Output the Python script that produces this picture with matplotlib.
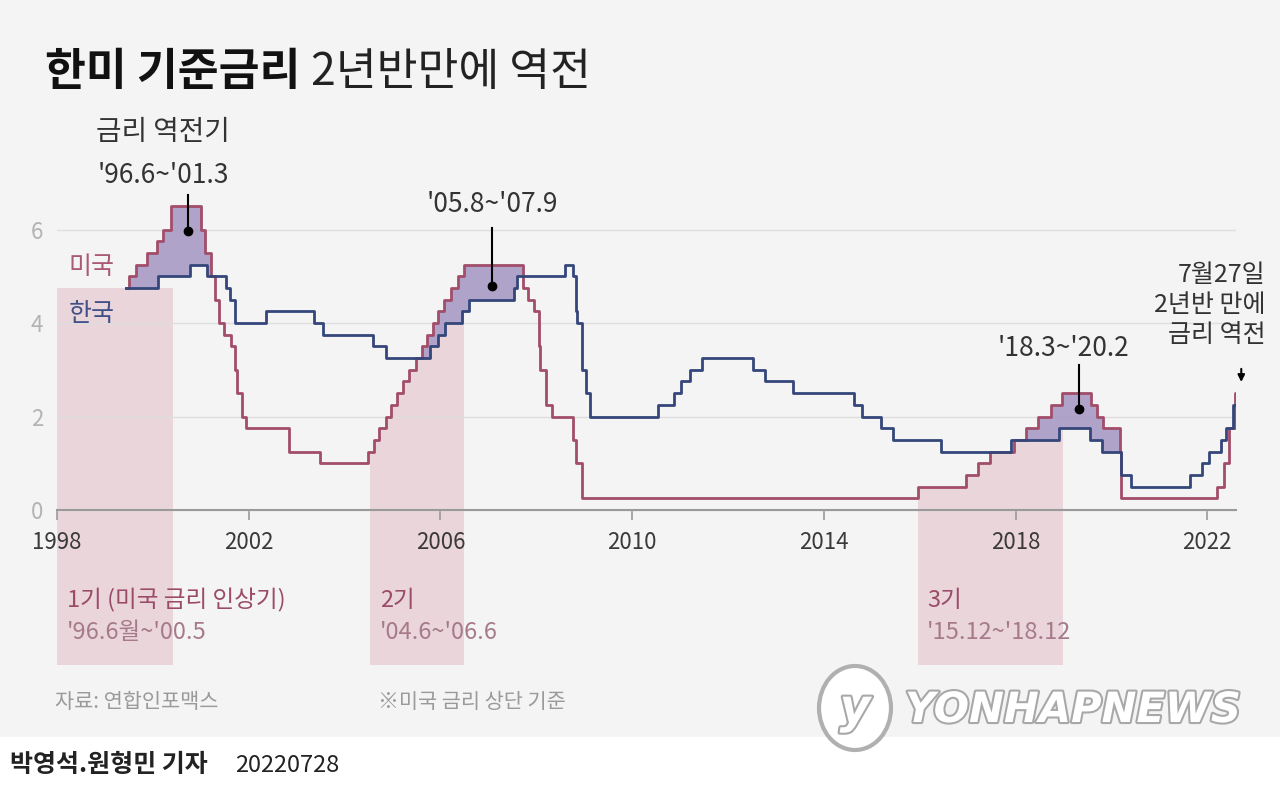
import matplotlib.pyplot as plt
import matplotlib.patheffects as pe
from matplotlib.patches import Rectangle, Ellipse
import numpy as np

plt.rcParams['font.family'] = ['Noto Sans CJK KR', 'DejaVu Sans']

# 한국 기준금리 (step, decimal years)
kr_dates = [1999.45, 2000.1, 2000.78, 2001.12, 2001.52, 2001.62, 2001.72, 2002.36, 2003.36,
            2003.55, 2004.6, 2004.86, 2005.78, 2005.94, 2006.1, 2006.45, 2006.6, 2007.53,
            2007.6, 2008.6, 2008.77, 2008.82, 2008.85, 2008.95, 2009.03, 2009.12, 2010.53,
            2010.87, 2011.03, 2011.2, 2011.45, 2012.53, 2012.78, 2013.35, 2014.62, 2014.79,
            2015.2, 2015.45, 2016.45, 2017.91, 2018.91, 2019.55, 2019.81, 2020.21, 2020.41,
            2021.65, 2021.9, 2022.04, 2022.28, 2022.4, 2022.53]
kr_rates = [4.75, 5.0, 5.25, 5.0, 4.75, 4.5, 4.0, 4.25, 4.0,
            3.75, 3.5, 3.25, 3.5, 3.75, 4.0, 4.25, 4.5, 4.75,
            5.0, 5.25, 5.0, 4.25, 4.0, 3.0, 2.5, 2.0, 2.25,
            2.5, 2.75, 3.0, 3.25, 3.0, 2.75, 2.5, 2.25, 2.0,
            1.75, 1.5, 1.25, 1.5, 1.75, 1.5, 1.25, 0.75, 0.5,
            0.75, 1.0, 1.25, 1.5, 1.75, 2.25]

# 미국 기준금리 상단
us_dates = [1999.45, 1999.5, 1999.64, 1999.88, 2000.09, 2000.22, 2000.38, 2001.01, 2001.08,
            2001.22, 2001.3, 2001.38, 2001.49, 2001.64, 2001.71, 2001.76, 2001.85, 2001.95,
            2002.85, 2003.48, 2004.49, 2004.61, 2004.72, 2004.86, 2004.96, 2005.09, 2005.22,
            2005.34, 2005.49, 2005.61, 2005.72, 2005.84, 2005.95, 2006.08, 2006.23, 2006.36,
            2006.49, 2007.72, 2007.83, 2007.95, 2008.06, 2008.08, 2008.21, 2008.33, 2008.77,
            2008.82, 2008.96, 2015.96, 2016.96, 2017.21, 2017.46, 2017.96, 2018.22, 2018.46,
            2018.74, 2018.97, 2019.58, 2019.71, 2019.83, 2020.17, 2020.2, 2022.21, 2022.34,
            2022.46, 2022.57]
us_rates = [4.75, 5.0, 5.25, 5.5, 5.75, 6.0, 6.5, 6.0, 5.5,
            5.0, 4.5, 4.0, 3.75, 3.5, 3.0, 2.5, 2.0, 1.75,
            1.25, 1.0, 1.25, 1.5, 1.75, 2.0, 2.25, 2.5, 2.75,
            3.0, 3.25, 3.5, 3.75, 4.0, 4.25, 4.5, 4.75, 5.0,
            5.25, 4.75, 4.5, 4.25, 3.5, 3.0, 2.25, 2.0, 1.5,
            1.0, 0.25, 0.5, 0.75, 1.0, 1.25, 1.5, 1.75, 2.0,
            2.25, 2.5, 2.25, 2.0, 1.75, 1.25, 0.25, 0.5, 1.0,
            1.75, 2.5]
end_date = 2022.6

# 미국 금리 인상기
hike_starts = [1998.0, 2004.54, 2015.96]
hike_ends = [2000.42, 2006.49, 2018.98]
hike_titles = ['1기 (미국 금리 인상기)', '2기', '3기']
hike_periods = ["'96.6월~'00.5", "'04.6~'06.6", "'15.12~'18.12"]

# 금리 역전기 라벨
inv_labels = ["'05.8~'07.9", "'18.3~'20.2"]
inv_x = [2007.08, 2019.33]

BG = '#f4f4f4'
US_C = '#a24d6a'
KR_C = '#34467a'
INV_C = '#a495c3'
HIKE_C = '#ead5db'

fig = plt.figure(figsize=(12.8, 7.85), dpi=100, facecolor=BG)
fig.add_artist(Rectangle((0, 0), 1, 48 / 785, transform=fig.transFigure,
                         facecolor='white', edgecolor='none', zorder=0))

ax = fig.add_axes([57 / 1280, 1 - 665 / 785, (1236 - 57) / 1280, 475 / 785])
ax.set_facecolor('none')
ymin = -3.32
ax.set_xlim(1998, end_date)
ax.set_ylim(ymin, 6.85)

t = np.unique(np.concatenate([kr_dates, us_dates, [end_date]]))
kr_t = np.array(kr_rates)[np.searchsorted(kr_dates, t, side='right') - 1]
us_t = np.array(us_rates)[np.searchsorted(us_dates, t, side='right') - 1]
low_t = np.minimum(kr_t, us_t)

# 인상기 음영
for i, (s, e) in enumerate(zip(hike_starts, hike_ends)):
    if s < t[0]:
        ax.fill_between([s, e], ymin, 4.75, color=HIKE_C, lw=0, zorder=0.2)
    else:
        m = (t > s) & (t < e)
        tp = np.concatenate([[s], t[m], [e]])
        vp = low_t[np.searchsorted(t, tp, side='right') - 1]
        ax.fill_between(tp, ymin, vp, step='post', color=HIKE_C, lw=0, zorder=0.2)
    ax.text(s + 0.2, -1.93, hike_titles[i], color='#9a4b68', fontsize=17,
            va='center', ha='left', zorder=5)
    ax.text(s + 0.2, -2.63, hike_periods[i], color='#a67a8b', fontsize=17,
            va='center', ha='left', zorder=5)

# 역전 구간
w = us_t > kr_t
w2 = w | np.concatenate([[False], w[:-1]])
ax.fill_between(t, kr_t, us_t, where=w2, step='post', color=INV_C, lw=0,
                alpha=0.85, zorder=2)

ax.step(t, us_t, where='post', color=US_C, lw=2, zorder=3)
ax.step(t, kr_t, where='post', color=KR_C, lw=2, zorder=4)

# axes styling
for s in ['top', 'right', 'left']:
    ax.spines[s].set_visible(False)
ax.spines['bottom'].set_position(('data', 0))
ax.spines['bottom'].set_color('#9a9a9a')
ax.spines['bottom'].set_linewidth(1.5)
ax.set_yticks([0, 2, 4, 6])
ax.set_yticklabels(['0', '2', '4', '6'])
ax.tick_params(axis='y', length=0, pad=10, labelsize=16, labelcolor='#b3b3b3')
ax.set_xticks(range(1998, 2023, 4))
ax.tick_params(axis='x', direction='out', length=7, width=1.2, color='#9a9a9a',
               pad=8, labelsize=16, labelcolor='#3a3a3a')
ax.grid(axis='y', color='#dedede', lw=1)
ax.set_axisbelow(True)

# series labels
ax.text(1998.25, 5.2, '미국', color='#aa5a76', fontsize=18, va='center', zorder=5)
ax.text(1998.25, 4.2, '한국', color='#3f5187', fontsize=18, va='center', zorder=5)

# annotations
ax.text(2000.21, 8.09, '금리 역전기', ha='center', va='center', fontsize=20, color='#333')
ax.text(2000.21, 7.17, "'96.6~'01.3", ha='center', va='center', fontsize=19, color='#333')
ax.plot([2000.73, 2000.73], [6.74, 5.97], color='black', lw=1.5, clip_on=False, zorder=6)
ax.plot(2000.73, 5.97, 'o', color='black', ms=6, zorder=6)

ax.text(inv_x[0], 6.55, inv_labels[0], ha='center', va='center', fontsize=19, color='#333')
ax.plot([inv_x[0], inv_x[0]], [6.04, 4.8], color='black', lw=1.5, zorder=6)
ax.plot(inv_x[0], 4.8, 'o', color='black', ms=6, zorder=6)

ax.text(2019.0, 3.46, inv_labels[1], ha='center', va='center', fontsize=19, color='#333')
ax.plot([inv_x[1], inv_x[1]], [3.1, 2.16], color='black', lw=1.5, zorder=6)
ax.plot(inv_x[1], 2.16, 'o', color='black', ms=6, zorder=6)

ax.text(2023.22, 4.39, '7월27일\n2년반 만에\n금리 역전', ha='right', va='center',
        fontsize=18, color='#333', linespacing=1.2)
ax.annotate('', xy=(2022.71, 2.68), xytext=(2022.71, 3.08),
            arrowprops=dict(arrowstyle='-|>', color='black', lw=1.5,
                            mutation_scale=10), annotation_clip=False)

# title
t1 = fig.text(45 / 1280, 1 - 72 / 785, '한미 기준금리', fontsize=32,
              fontweight='bold', color='#111', va='center', ha='left')
ax.annotate('2년반만에 역전', xy=(1, 0.5), xycoords=t1, xytext=(8, 0),
            textcoords='offset points', fontsize=32, color='#222',
            va='center', ha='left', annotation_clip=False)

# notes
fig.text(55 / 1280, 1 - 702 / 785, '자료: 연합인포맥스', fontsize=15, color='#9a9a9a',
         va='center')
fig.text(378 / 1280, 1 - 702 / 785, '※미국 금리 상단 기준', fontsize=15, color='#9a9a9a',
         va='center')
fig.text(10 / 1280, 1 - 765 / 785, '박영석.원형민 기자', fontsize=18, color='#222',
         fontweight='bold', va='center')
fig.text(235 / 1280, 1 - 765 / 785, '20220728', fontsize=17, color='#222', va='center')

# watermark
fig.add_artist(Ellipse((855 / 1280, 1 - 708 / 785), 72 / 1280, 84 / 785,
                       transform=fig.transFigure, facecolor='white',
                       edgecolor='#b0b0b0', lw=3, zorder=8))
fig.text(855 / 1280, 1 - 710 / 785, 'y', fontsize=34, style='italic',
         fontweight='bold', color='white', ha='center', va='center', zorder=9,
         family='DejaVu Sans',
         path_effects=[pe.withStroke(linewidth=3, foreground='#a8a8a8')])
fig.text(905 / 1280, 1 - 710 / 785, 'YONHAPNEWS', fontsize=30, style='italic',
         fontweight='bold', color='white', ha='left', va='center', zorder=9,
         family='DejaVu Sans',
         path_effects=[pe.withStroke(linewidth=3, foreground='#a8a8a8')])

fig.savefig('out.png', dpi=100, facecolor=BG)
